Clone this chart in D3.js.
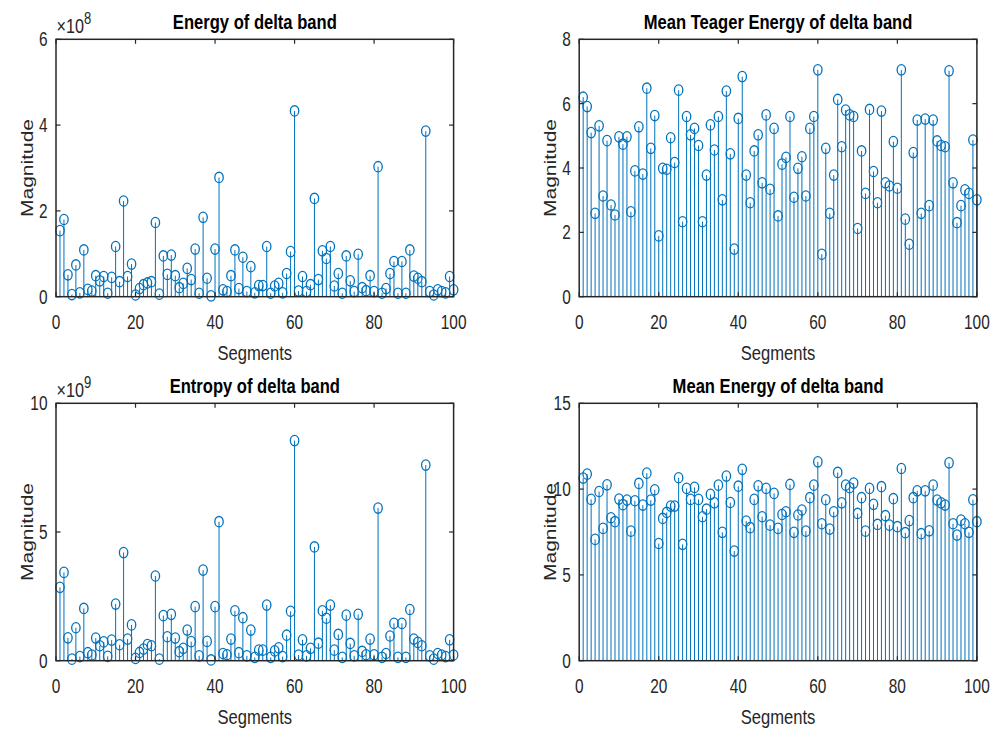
<!DOCTYPE html>
<html>
<head>
<meta charset="utf-8">
<script src="https://cdn.jsdelivr.net/npm/d3@7"></script>
<style>
  body { margin: 0; background: #fff; }
  svg { display: block; }
</style>
</head>
<body>
<svg id="fig" width="995" height="734"></svg>
<script>
// Segment indices along the x axis
const segments = d3.range(1, 101);

// Energy of delta band (units of 1e8)
const energyDelta = [
  1.54, 1.80, 0.51, 0.05, 0.74, 0.09, 1.09, 0.17, 0.13, 0.49,
  0.37, 0.47, 0.08, 0.45, 1.17, 0.35, 2.23, 0.47, 0.76, 0.04,
  0.19, 0.28, 0.32, 0.35, 1.73, 0.06, 0.95, 0.52, 0.97, 0.49,
  0.21, 0.31, 0.66, 0.40, 1.11, 0.08, 1.85, 0.43, 0.02, 1.11,
  2.78, 0.16, 0.12, 0.49, 1.09, 0.19, 0.92, 0.12, 0.70, 0.09,
  0.26, 0.26, 1.17, 0.08, 0.25, 0.31, 0.09, 0.54, 1.05, 4.33,
  0.13, 0.47, 0.12, 0.28, 2.29, 0.40, 1.07, 0.89, 1.17, 0.25,
  0.54, 0.08, 0.95, 0.37, 0.12, 0.99, 0.21, 0.14, 0.49, 0.12,
  3.03, 0.08, 0.19, 0.54, 0.82, 0.08, 0.82, 0.08, 1.09, 0.48,
  0.43, 0.35, 3.86, 0.12, 0.04, 0.16, 0.12, 0.09, 0.47, 0.16
];

// Mean Teager energy of delta band
const teagerDelta = [
  6.20, 5.91, 5.10, 2.59, 5.31, 3.13, 4.85, 2.85, 2.54, 4.97,
  4.74, 4.97, 2.64, 3.91, 5.28, 3.81, 6.48, 4.61, 5.63, 1.89,
  3.99, 3.96, 4.94, 4.17, 6.42, 2.33, 5.60, 5.03, 5.23, 4.70,
  2.33, 3.78, 5.34, 4.56, 5.60, 3.01, 6.39, 4.44, 1.48, 5.54,
  6.84, 3.78, 2.92, 4.53, 5.03, 3.54, 5.65, 3.34, 5.23, 2.51,
  4.12, 4.33, 5.60, 3.09, 3.99, 4.35, 3.13, 5.23, 5.60, 7.05,
  1.32, 4.61, 2.59, 3.78, 6.13, 4.66, 5.80, 5.65, 5.60, 2.12,
  4.53, 3.21, 5.82, 3.89, 2.92, 5.77, 3.54, 3.44, 4.82, 3.37,
  7.05, 2.41, 1.63, 4.48, 5.49, 2.59, 5.52, 2.83, 5.49, 4.84,
  4.70, 4.66, 7.02, 3.54, 2.30, 2.83, 3.32, 3.21, 4.87, 3.01
];

// Entropy of delta band (units of 1e9)
const entropyDelta = [
  2.85, 3.43, 0.89, 0.06, 1.28, 0.16, 2.03, 0.31, 0.22, 0.88,
  0.58, 0.73, 0.17, 0.80, 2.20, 0.62, 4.20, 0.84, 1.39, 0.09,
  0.32, 0.45, 0.63, 0.58, 3.29, 0.06, 1.75, 0.93, 1.80, 0.88,
  0.35, 0.48, 1.19, 0.74, 2.10, 0.19, 3.52, 0.75, 0.03, 2.10,
  5.40, 0.28, 0.23, 0.84, 1.94, 0.31, 1.67, 0.19, 1.19, 0.13,
  0.41, 0.41, 2.16, 0.13, 0.38, 0.50, 0.16, 0.99, 1.92, 8.55,
  0.22, 0.81, 0.19, 0.48, 4.42, 0.68, 1.94, 1.65, 2.16, 0.41,
  1.02, 0.13, 1.77, 0.67, 0.19, 1.80, 0.36, 0.23, 0.84, 0.23,
  5.93, 0.13, 0.28, 0.96, 1.45, 0.13, 1.45, 0.13, 1.99, 0.84,
  0.71, 0.58, 7.60, 0.19, 0.06, 0.28, 0.22, 0.16, 0.81, 0.22
];

// Mean energy of delta band
const meanEnergyDelta = [
  10.64, 10.87, 9.40, 7.07, 9.86, 7.71, 10.25, 8.33, 8.10, 9.42,
  9.09, 9.36, 7.55, 9.32, 10.33, 9.07, 10.93, 9.36, 9.96, 6.83,
  8.29, 8.64, 9.01, 9.01, 10.66, 6.78, 10.04, 9.40, 10.10, 9.40,
  8.39, 8.83, 9.69, 9.20, 10.23, 7.48, 10.76, 9.22, 6.39, 10.17,
  11.15, 8.14, 7.75, 9.40, 10.19, 8.39, 10.04, 7.90, 9.75, 7.71,
  8.52, 8.68, 10.27, 7.48, 8.49, 8.78, 7.55, 9.50, 10.23, 11.59,
  7.98, 9.38, 7.67, 8.68, 10.97, 9.20, 10.23, 10.08, 10.35, 8.58,
  9.50, 7.55, 10.04, 9.11, 7.94, 10.14, 8.45, 7.90, 9.44, 7.81,
  11.20, 7.46, 8.16, 9.50, 9.90, 7.40, 9.90, 7.57, 10.23, 9.36,
  9.20, 9.07, 11.53, 7.98, 7.32, 8.19, 7.98, 7.48, 9.38, 8.10
];

// Axis settings
const xTicks = [0, 20, 40, 60, 80, 100];
const titles = ["Energy of delta band", "Mean Teager Energy of delta band",
                "Entropy of delta band", "Mean Energy of delta band"];
const yTickSets = [[0, 2, 4, 6], [0, 2, 4, 6, 8], [0, 5, 10], [0, 5, 10, 15]];
const yMaxes = [6, 8, 10, 15];
const exponents = [8, null, 9, null];
const xLabel = "Segments";
const yLabel = "Magnitude";

const seriesList = [energyDelta, teagerDelta, entropyDelta, meanEnergyDelta];

// Plot boxes [left, top, right, bottom]
const boxes = [
  [56.0, 39.3, 453.6, 296.7],
  [579.2, 39.3, 976.9, 296.7],
  [56.0, 403.3, 453.6, 660.7],
  [579.2, 403.3, 976.9, 660.7]
];

const STEM = "#0072BD";
const AXIS = "#262626";
const SX = 0.79;           // horizontal squeeze of the text
const FONT = "'Liberation Sans', Arial, Helvetica, sans-serif";
const TICK_FS = 19.5, LABEL_FS = 21, TITLE_FS = 21;
const TICK_LEN = 4.5;

const svg = d3.select("#fig");

function addText(g, x, y, str, opts) {
  const t = g.append("text")
    .attr("transform", `translate(${x},${y}) scale(${SX},1)` + (opts.rotate ? ` rotate(${opts.rotate})` : ""))
    .attr("font-family", FONT)
    .attr("font-size", opts.size)
    .attr("font-weight", opts.weight || "normal")
    .attr("fill", opts.fill || AXIS)
    .attr("text-anchor", opts.anchor || "middle")
    .text(str);
  return t;
}

seriesList.forEach((vals, k) => {
  const [L, T, R, B] = boxes[k];
  const x = d3.scaleLinear().domain([0, 100]).range([L, R]);
  const y = d3.scaleLinear().domain([0, yMaxes[k]]).range([B, T]);
  const g = svg.append("g");

  // stems
  g.append("g").selectAll("line").data(segments).join("line")
    .attr("x1", d => x(d)).attr("x2", d => x(d))
    .attr("y1", y(0)).attr("y2", (d, i) => y(vals[i]))
    .attr("stroke", STEM).attr("stroke-width", 1);

  // markers
  g.append("g").selectAll("ellipse").data(segments).join("ellipse")
    .attr("cx", d => x(d)).attr("cy", (d, i) => y(vals[i]))
    .attr("rx", 4.2).attr("ry", 5.2)
    .attr("fill", "none").attr("stroke", STEM).attr("stroke-width", 1.3);

  // box
  g.append("rect")
    .attr("x", L).attr("y", T).attr("width", R - L).attr("height", B - T)
    .attr("fill", "none").attr("stroke", AXIS).attr("stroke-width", 1.5);

  // x ticks (bottom & top, inward)
  xTicks.forEach(v => {
    g.append("line").attr("x1", x(v)).attr("x2", x(v)).attr("y1", B).attr("y2", B - TICK_LEN)
      .attr("stroke", AXIS).attr("stroke-width", 1.2);
    g.append("line").attr("x1", x(v)).attr("x2", x(v)).attr("y1", T).attr("y2", T + TICK_LEN)
      .attr("stroke", AXIS).attr("stroke-width", 1.2);
    addText(g, x(v), B + 32.5, String(v), { size: TICK_FS });
  });

  // y ticks (left & right, inward)
  yTickSets[k].forEach(v => {
    g.append("line").attr("x1", L).attr("x2", L + TICK_LEN).attr("y1", y(v)).attr("y2", y(v))
      .attr("stroke", AXIS).attr("stroke-width", 1.2);
    g.append("line").attr("x1", R).attr("x2", R - TICK_LEN).attr("y1", y(v)).attr("y2", y(v))
      .attr("stroke", AXIS).attr("stroke-width", 1.2);
    addText(g, L - 8.5, y(v) + 7, String(v), { size: TICK_FS, anchor: "end" });
  });

  // exponent label
  if (exponents[k] !== null) {
    const t = addText(g, L + 0.5, T - 6.5, "", { size: TICK_FS + 1, anchor: "start" });
    t.append("tspan").text("\u00D710");
    t.append("tspan").attr("font-size", TICK_FS - 3).attr("dy", -9).text(String(exponents[k]));
  }

  // title, axis labels
  addText(g, (L + R) / 2, T - 10.3, titles[k], { size: TITLE_FS, weight: "bold", fill: "#000" });
  addText(g, (L + R) / 2, B + 63.5, xLabel, { size: LABEL_FS });
  addText(g, L - 23, (T + B) / 2, yLabel, { size: LABEL_FS, rotate: -90 });
});
</script>
</body>
</html>
